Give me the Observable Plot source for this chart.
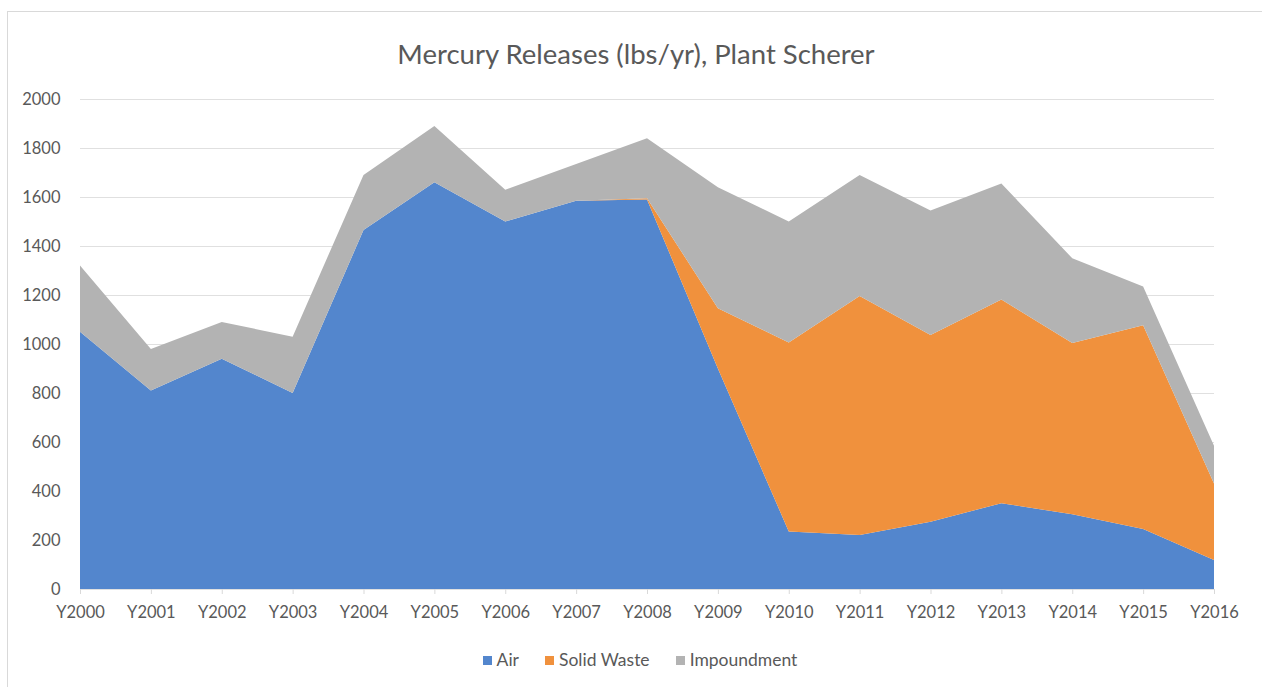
<!DOCTYPE html>
<html>
<head>
<meta charset="utf-8">
<script src="https://cdn.jsdelivr.net/npm/d3@7"></script>
<script src="https://cdn.jsdelivr.net/npm/@observablehq/plot@0.6"></script>
<style>
  html, body { margin: 0; padding: 0; background: #fff; overflow: hidden; }
  body { width: 1262px; height: 687px; position: relative; font-family: Lato, "Open Sans", sans-serif; }
  #frame { position: absolute; left: 7px; top: 11px; width: 1270px; height: 700px; border: 1px solid #d9d9d9; box-sizing: border-box; }
  #title { position: absolute; left: 0; top: 37px; width: 1272px; text-align: center; font-size: 27.5px; color: #595959; line-height: 34px; }
  #chart { position: absolute; left: 0; top: 0; }
  #legend { position: absolute; left: 0; top: 648px; width: 1280px; text-align: center; font-size: 17.5px; color: #595959; line-height: 24px; }
  #legend span.item { display: inline-block; margin: 0 13px; }
  #legend span.sw { display: inline-block; width: 9px; height: 9px; margin-right: 5px; vertical-align: 1px; }
</style>
</head>
<body>
<div id="frame"></div>
<div id="title">Mercury Releases (lbs/yr), Plant Scherer</div>
<div id="chart"></div>
<div id="legend"></div>
<script>
const years = [2000, 2001, 2002, 2003, 2004, 2005, 2006, 2007, 2008, 2009, 2010, 2011, 2012, 2013, 2014, 2015, 2016];
const seriesNames = ["Air", "Solid Waste", "Impoundment"];
const air =         [1050, 810, 940, 800, 1465, 1660, 1500, 1585, 1590, 900, 235, 220, 275, 350, 305, 245, 118];
const solidWaste =  [0, 0, 0, 0, 0, 0, 0, 0, 5, 246, 771, 976, 762, 832, 699, 832, 313];
const impoundment = [270, 170, 150, 230, 225, 230, 130, 150, 245, 494, 494, 494, 508, 473, 346, 158, 154];
const yTicks = [0, 200, 400, 600, 800, 1000, 1200, 1400, 1600, 1800, 2000];
const colors = ["#5386cd", "#f0913d", "#b3b3b3"];

const seriesValues = [air, solidWaste, impoundment];
const data = [];
years.forEach((yr, i) => {
  seriesNames.forEach((s, j) => data.push({year: yr, series: s, value: seriesValues[j][i]}));
});

const chart = Plot.plot({
  width: 1262,
  height: 630,
  marginLeft: 80,
  marginRight: 48,
  marginTop: 99,
  marginBottom: 41,
  style: {fontFamily: "Lato, 'Open Sans', sans-serif", fontSize: "16.5px", color: "#595959", background: "transparent"},
  x: {type: "linear", domain: [2000, 2016]},
  y: {domain: [0, 2000]},
  color: {domain: seriesNames, range: colors},
  marks: [
    Plot.gridY(yTicks, {stroke: "#e0e0e0", strokeOpacity: 1}),
    Plot.areaY(data, {x: "year", y: "value", fill: "series", order: seriesNames}),
    Plot.axisX({ticks: years, tickFormat: d => "Y" + d, tickSize: 5, tickPadding: 12, stroke: "#d9d9d9", fill: "#595959", label: null}),
    Plot.axisY({ticks: yTicks, tickFormat: d => String(d), tickSize: 0, tickPadding: 20, fill: "#595959", label: null})
  ]
});
document.getElementById("chart").appendChild(chart);

const legend = document.getElementById("legend");
seriesNames.forEach((s, j) => {
  const item = document.createElement("span");
  item.className = "item";
  const sw = document.createElement("span");
  sw.className = "sw";
  sw.style.background = colors[j];
  item.appendChild(sw);
  item.appendChild(document.createTextNode(s));
  legend.appendChild(item);
});
</script>
</body>
</html>
